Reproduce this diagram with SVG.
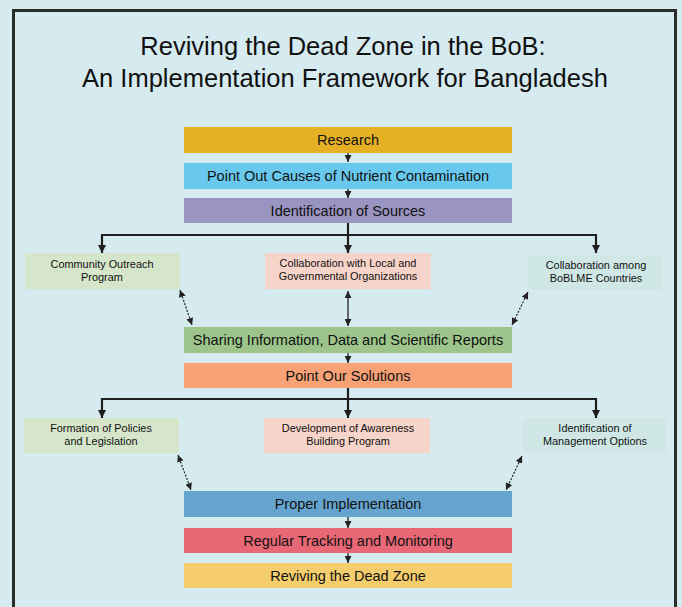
<svg xmlns="http://www.w3.org/2000/svg" width="682" height="607" viewBox="0 0 682 607">
<defs>
<style>
.t{font-family:"Liberation Sans",Arial,sans-serif;fill:#111;text-anchor:middle}
.title{font-size:25.5px}
.m{font-size:14.5px}
.s{font-size:10.9px}
.br{fill:none;stroke:#1e1e1e;stroke-width:2.2}
.ar{fill:none;stroke:#222;stroke-width:1.3}
.dt{fill:none;stroke:#222;stroke-width:1.2;stroke-dasharray:2 1.5}
</style>
<marker id="ah" viewBox="0 0 10 10" refX="10" refY="5" markerWidth="7" markerHeight="7" markerUnits="userSpaceOnUse" orient="auto-start-reverse"><path d="M0,0 L10,5 L0,10 z" fill="#222"/></marker>
<marker id="ab" viewBox="0 0 10 10" refX="10" refY="5" markerWidth="8" markerHeight="8" markerUnits="userSpaceOnUse" orient="auto-start-reverse"><path d="M0,0 L10,5 L0,10 z" fill="#1e1e1e"/></marker>
</defs>
<rect width="682" height="607" fill="#d6ebf0"/>
<rect x="13.5" y="10.5" width="662" height="620" fill="none" stroke="#2b2b2b" stroke-width="3"/>
<g id="title">
<text class="t title" x="343" y="55">Reviving the Dead Zone in the BoB:</text>
<text class="t title" x="345" y="87">An Implementation Framework for Bangladesh</text>
</g>
<g id="connectors">
<line class="ar" x1="348" y1="153" x2="348" y2="162" marker-end="url(#ah)"/>
<line class="ar" x1="348" y1="189" x2="348" y2="198" marker-end="url(#ah)"/>
<line class="br" x1="348" y1="223" x2="348" y2="235"/>
<polyline class="br" points="102,253 102,235 596,235 596,253" marker-start="url(#ab)" marker-end="url(#ab)"/>
<line class="br" x1="348" y1="235" x2="348" y2="253" marker-end="url(#ab)"/>
<line class="dt" x1="180" y1="290" x2="192" y2="325" marker-start="url(#ah)" marker-end="url(#ah)"/>
<line class="ar" x1="348" y1="291" x2="348" y2="326" marker-start="url(#ah)" marker-end="url(#ah)"/>
<line class="dt" x1="528" y1="292" x2="512" y2="325" marker-start="url(#ah)" marker-end="url(#ah)"/>
<line class="ar" x1="348" y1="353" x2="348" y2="363" marker-end="url(#ah)"/>
<line class="br" x1="348" y1="388" x2="348" y2="399"/>
<polyline class="br" points="102,418 102,399 596,399 596,418" marker-start="url(#ab)" marker-end="url(#ab)"/>
<line class="br" x1="348" y1="399" x2="348" y2="418" marker-end="url(#ab)"/>
<line class="dt" x1="178" y1="455" x2="191" y2="490" marker-start="url(#ah)" marker-end="url(#ah)"/>
<line class="dt" x1="522" y1="456" x2="506" y2="490" marker-start="url(#ah)" marker-end="url(#ah)"/>
<line class="ar" x1="348" y1="517" x2="348" y2="528" marker-end="url(#ah)"/>
<line class="ar" x1="348" y1="553" x2="348" y2="563" marker-end="url(#ah)"/>
</g>
<g id="research"><rect x="184" y="127" width="328" height="26" fill="#e6b024"/><text class="t m" x="348" y="145">Research</text></g>
<g id="causes"><rect x="184" y="163" width="328" height="26" fill="#68c8ee"/><text class="t m" x="348" y="181">Point Out Causes of Nutrient Contamination</text></g>
<g id="sources"><rect x="184" y="198" width="328" height="25" fill="#9a94c1"/><text class="t m" x="348" y="215.5">Identification of Sources</text></g>
<g id="community"><rect x="25" y="253" width="155" height="36" fill="#d6e6ca"/><text class="t s" x="102" y="268">Community Outreach</text><text class="t s" x="102" y="281">Program</text></g>
<g id="local"><rect x="265" y="253" width="166" height="36" fill="#f7d4c9"/><text class="t s" x="348" y="267">Collaboration with Local and</text><text class="t s" x="348" y="280">Governmental Organizations</text></g>
<g id="boblme"><rect x="528" y="255" width="134" height="35" fill="#cfe8e6"/><text class="t s" x="596" y="269">Collaboration among</text><text class="t s" x="596" y="282">BoBLME Countries</text></g>
<g id="sharing"><rect x="184" y="327" width="328" height="26" fill="#9dc58b"/><text class="t m" x="348" y="345">Sharing Information, Data and Scientific Reports</text></g>
<g id="solutions"><rect x="184" y="363" width="328" height="25" fill="#f7a174"/><text class="t m" x="348" y="380.5">Point Our Solutions</text></g>
<g id="policies"><rect x="24" y="418" width="155" height="35" fill="#d6e6ca"/><text class="t s" x="101" y="432">Formation of Policies</text><text class="t s" x="101" y="445">and Legislation</text></g>
<g id="awareness"><rect x="264" y="418" width="166" height="35" fill="#f7d4c9"/><text class="t s" x="348" y="432">Development of Awareness</text><text class="t s" x="348" y="445">Building Program</text></g>
<g id="management"><rect x="523" y="418" width="144" height="35" fill="#cfe8e6"/><text class="t s" x="595" y="432">Identification of</text><text class="t s" x="595" y="445">Management Options</text></g>
<g id="implementation"><rect x="184" y="491" width="328" height="26" fill="#66a4d0"/><text class="t m" x="348" y="509">Proper Implementation</text></g>
<g id="tracking"><rect x="184" y="528" width="328" height="25" fill="#e86876"/><text class="t m" x="348" y="545.5">Regular Tracking and Monitoring</text></g>
<g id="reviving"><rect x="184" y="563" width="328" height="25" fill="#f5cd6c"/><text class="t m" x="348" y="580.5">Reviving the Dead Zone</text></g>
</svg>
